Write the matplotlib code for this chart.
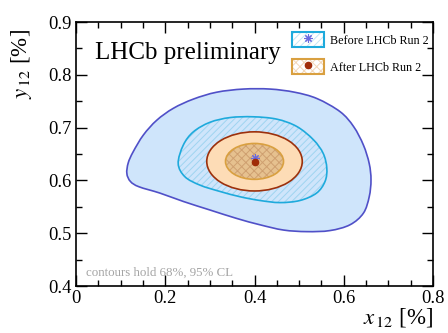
import matplotlib
matplotlib.use("Agg")
import matplotlib.pyplot as plt
import numpy as np
from matplotlib.path import Path
from matplotlib.patches import PathPatch, Ellipse, Patch
from matplotlib.lines import Line2D

# контуры до Run 2 (точки)
before95_x = [0.114, 0.117, 0.128, 0.151, 0.181, 0.218, 0.263, 0.315, 0.375, 0.435, 0.490, 0.540,
              0.592, 0.622, 0.644, 0.657, 0.661, 0.657, 0.644, 0.614, 0.569, 0.517,
              0.465, 0.412, 0.360, 0.300, 0.241, 0.188, 0.141, 0.122]
before95_y = [0.613, 0.633, 0.654, 0.686, 0.714, 0.7365, 0.754, 0.767, 0.773, 0.773, 0.767, 0.755,
              0.730, 0.702, 0.667, 0.632, 0.601, 0.569, 0.538, 0.516, 0.505, 0.503,
              0.506, 0.516, 0.528, 0.544, 0.560, 0.576, 0.588, 0.598]
before68_x = [0.229, 0.2405, 0.263, 0.300, 0.345, 0.397, 0.450, 0.495, 0.532, 0.554, 0.562,
              0.558, 0.539, 0.502, 0.457, 0.412, 0.368, 0.323, 0.278, 0.244]
before68_y = [0.632, 0.667, 0.692, 0.710, 0.719, 0.7205, 0.716, 0.702, 0.677, 0.651, 0.623,
              0.598, 0.576, 0.562, 0.558, 0.562, 0.569, 0.579, 0.591, 0.607]

# контуры после Run 2: центр и полные размеры эллипсов
after_center = (0.40, 0.636)
after95_size = (0.214, 0.112)
after68_size = (0.130, 0.068)

# лучшие значения
before_best = (0.40, 0.642)
after_best = (0.40, 0.635)

plt.rcParams["font.family"] = ["Liberation Serif", "DejaVu Serif"]
plt.rcParams["mathtext.fontset"] = "stix"
plt.rcParams["hatch.linewidth"] = 0.7


def closed_path(xs, ys):
    # замкнутая гладкая кривая через точки (Catmull-Rom -> кубические Безье)
    p = np.column_stack([xs, ys])
    n = len(p)
    verts = [p[0]]
    codes = [Path.MOVETO]
    for i in range(n):
        p0, p1, p2, p3 = p[i - 1], p[i], p[(i + 1) % n], p[(i + 2) % n]
        verts += [p1 + (p2 - p0) / 6, p2 - (p3 - p1) / 6, p2]
        codes += [Path.CURVE4] * 3
    return Path(verts, codes)


fig = plt.figure(figsize=(4.48, 3.33), dpi=100)
ax = fig.add_axes([0.1696, 0.1411, 0.797, 0.7928])

outer = closed_path(before95_x, before95_y)
inner = closed_path(before68_x, before68_y)

ax.add_patch(PathPatch(outer, facecolor="#cfe5fb", edgecolor="none", zorder=1))
ax.add_patch(PathPatch(outer, facecolor="none", edgecolor="#5050c8", lw=1.2, zorder=6))
ax.add_patch(PathPatch(inner, facecolor="none", edgecolor="#9fd4f0", lw=0, hatch="/////", zorder=2))
ax.add_patch(PathPatch(inner, facecolor="none", edgecolor="#1eaadc", lw=1.2, zorder=6))

ax.add_patch(Ellipse(after_center, *after95_size, facecolor="#fddcb6", edgecolor="none", zorder=3))
ax.add_patch(Ellipse(after_center, *after95_size, facecolor="none", edgecolor="#9c300c", lw=1.2, zorder=7))
ax.add_patch(Ellipse(after_center, *after68_size, facecolor="#e6c18f", edgecolor="none", zorder=4))
ax.add_patch(Ellipse(after_center, *after68_size, facecolor="none", edgecolor="#cfa070", lw=0, hatch="xxxx", zorder=5))
ax.add_patch(Ellipse(after_center, *after68_size, facecolor="none", edgecolor="#d9a040", lw=1.2, zorder=7))

ax.plot(*before_best, marker=(8, 2, 0), color="#6a6ae0", ms=6, mew=0.8, zorder=8)
ax.plot(*after_best, marker="o", color="#a02c08", ms=4.5, zorder=9)

ax.set_xlim(0, 0.8)
ax.set_ylim(0.4, 0.9)
ax.set_xticks([0, 0.2, 0.4, 0.6, 0.8])
ax.set_xticklabels(["0", "0.2", "0.4", "0.6", "0.8"])
ax.set_yticks([0.4, 0.5, 0.6, 0.7, 0.8, 0.9])
ax.set_xticks(np.arange(0, 0.81, 0.05), minor=True)
ax.set_yticks(np.arange(0.4, 0.91, 0.05), minor=True)
ax.tick_params(which="both", direction="in", top=True, right=True, width=1.0, labelsize=13.3, pad=3)
ax.tick_params(which="major", length=8)
ax.tick_params(which="minor", length=4)
for s in ax.spines.values():
    s.set_linewidth(1.2)

ax.set_xlabel(r"$x_{\,12}$ [%]", fontsize=16.5, loc="right", labelpad=-1)
ax.set_ylabel(r"$y_{\,12}$ [%]", fontsize=16.5, loc="top")
ax.yaxis.set_label_coords(-0.118, 0.975)

ax.text(0.053, 0.86, "LHCb preliminary", transform=ax.transAxes, fontsize=18, va="baseline")
ax.text(0.027, 0.05, "contours hold 68%, 95% CL", transform=ax.transAxes, fontsize=9.3,
        color="#a4a4a4", va="center")

h_before = (Patch(facecolor="white", edgecolor="#c5e6f6", lw=0, hatch="/////"),
            Patch(facecolor="none", edgecolor="#1eaadc", lw=1.5),
            Line2D([], [], ls="none", marker=(8, 2, 0), color="#6a6ae0", ms=6, mew=0.8))
h_after = (Patch(facecolor="white", edgecolor="#f2d6b8", lw=0, hatch="xxxx"),
           Patch(facecolor="none", edgecolor="#d9a040", lw=1.5),
           Line2D([], [], ls="none", marker="o", color="#a02c08", ms=4.5))
ax.legend([h_before, h_after], ["Before LHCb Run 2", "After LHCb Run 2"],
          loc="upper left", bbox_to_anchor=(0.604, 0.962), frameon=False, fontsize=8.7,
          borderpad=0, borderaxespad=0, handlelength=2.7, handleheight=1.55,
          labelspacing=1.0, handletextpad=0.5)

fig.savefig("out.png", dpi=100)
